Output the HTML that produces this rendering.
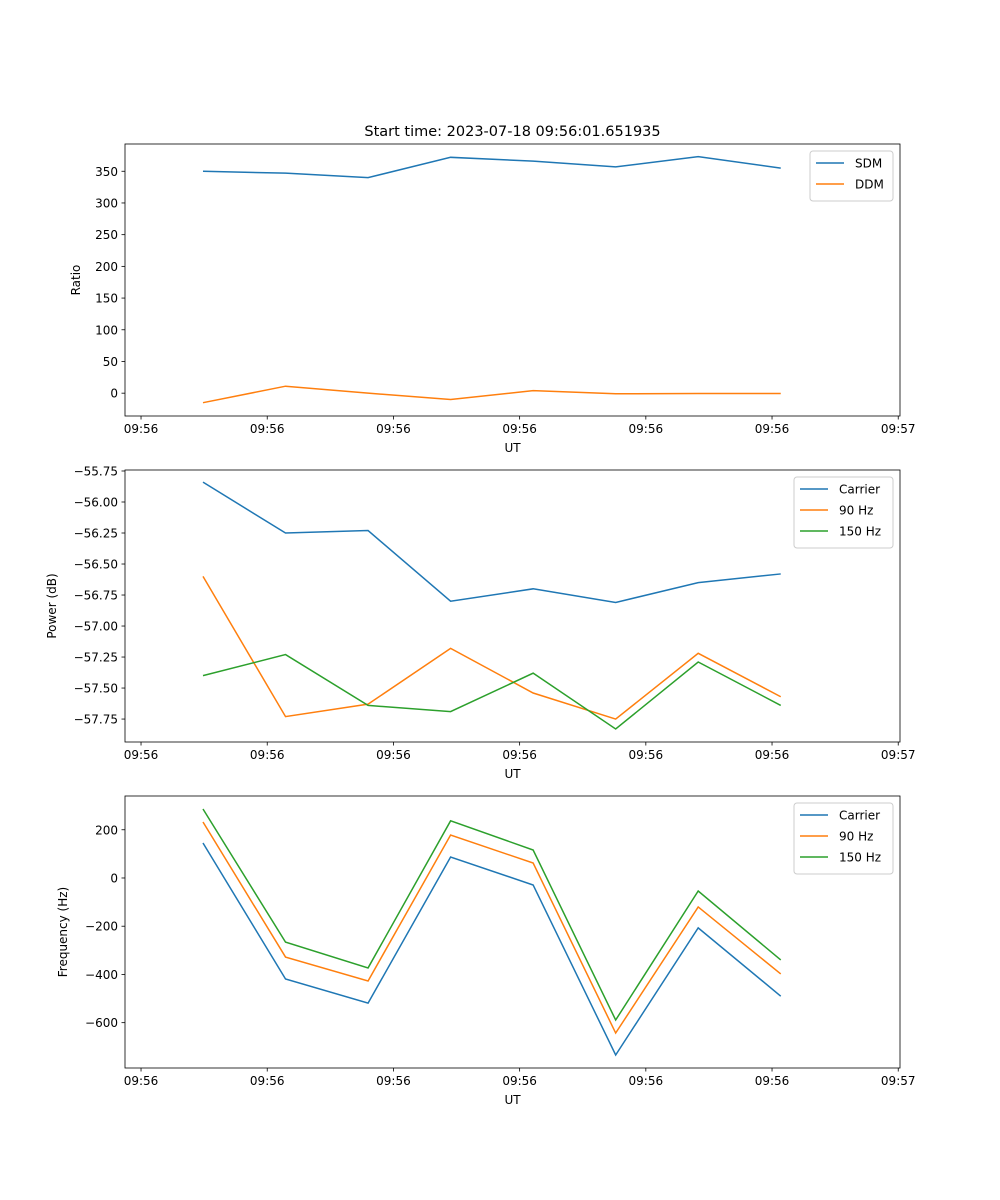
<!DOCTYPE html>
<html><head><meta charset="utf-8"><style>
body{margin:0;background:#fff}
svg{display:block;font-family:"DejaVu Sans","Liberation Sans",sans-serif}
</style></head><body>
<svg id="fig" width="1000" height="1200" viewBox="0 0 1000 1200">
<rect width="1000" height="1200" fill="#fff"/>
<text x="512.5" y="136" text-anchor="middle" font-size="14.5">Start time: 2023-07-18 09:56:01.651935</text>
</svg>
<script>
const times = [0.491, 1.145, 1.799, 2.453, 3.107, 3.761, 4.415, 5.069];
const xTickVals = [0,1,2,3,4,5,6];
const xTickLabels = ["09:56","09:56","09:56","09:56","09:56","09:56","09:57"];
const sdm = [350,347,340,372,366,357,373,355];
const ddm = [-15,11,0,-10,4,-1,-0.5,-0.5];
const pCarrier = [-55.84,-56.25,-56.23,-56.80,-56.70,-56.81,-56.65,-56.58];
const p90 = [-56.60,-57.73,-57.63,-57.18,-57.54,-57.75,-57.22,-57.57];
const p150 = [-57.40,-57.23,-57.64,-57.69,-57.38,-57.83,-57.29,-57.64];
const fCarrier = [145,-419,-519,87,-29,-734,-207,-490];
const f90 = [232,-328,-427,178,62,-643,-120,-398];
const f150 = [286,-266,-373,237,116,-589,-54,-340];
const ticks1 = [0,50,100,150,200,250,300,350];
const ticks2 = [-55.75,-56.00,-56.25,-56.50,-56.75,-57.00,-57.25,-57.50,-57.75];
const ticks3 = [200,0,-200,-400,-600];

const NS="http://www.w3.org/2000/svg";
const svg=document.getElementById('fig');
const C=["#1f77b4","#ff7f0e","#2ca02c"];
function el(t,a,p){const e=document.createElementNS(NS,t);for(const k in a)e.setAttribute(k,a[k]);(p||svg).appendChild(e);return e;}
const X0=125,X1=900,XMIN=-0.127,XMAX=6.014;
const xs=v=>X0+(v-XMIN)/(XMAX-XMIN)*(X1-X0);

function panel(name,top,bot,ymin,ymax,yt,fmt,ylabel,series,labels,legW){
  const g=el('g',{});
  
  
  const ys=v=>bot-(v-ymin)/(ymax-ymin)*(bot-top);
  series.forEach((s,i)=>{
    const pl=el('polyline',{points:s.map((v,j)=>xs(times[j])+','+ys(v)).join(' '),fill:'none',stroke:C[i],'stroke-width':1.5},g);
    
    
  });
  const fr=el('rect',{x:X0,y:top,width:X1-X0,height:bot-top,fill:'none',stroke:'#000','stroke-width':0.8},g);
  
  
  xTickVals.forEach((v,i)=>{
    const x=xs(v);
    el('line',{x1:x,y1:bot,x2:x,y2:bot+3.5,stroke:'#000','stroke-width':0.8},g);
    const t=el('text',{x:x,y:bot+17,'text-anchor':'middle','font-size':12},g);
    t.textContent=xTickLabels[i];
    
    
  });
  yt.forEach(v=>{
    const y=ys(v);
    el('line',{x1:X0-3.5,y1:y,x2:X0,y2:y,stroke:'#000','stroke-width':0.8},g);
    const t=el('text',{x:X0-7,y:y+4.5,'text-anchor':'end','font-size':12},g);
    t.textContent=fmt(v);
    
    
  });
  const xl=el('text',{x:512.5,y:bot+36,'text-anchor':'middle','font-size':12},g);
  xl.textContent='UT';
  
  
  const lx=ylabel==='Ratio'?80:(ylabel==='Power (dB)'?56:67);
  const yl=el('text',{x:lx,y:(top+bot)/2,'text-anchor':'middle','font-size':12,transform:`rotate(-90 ${lx} ${(top+bot)/2})`},g);
  yl.textContent=ylabel;
  
  
  const lg=el('g',{},g);
  
  
  const lxl=893-legW;
  el('rect',{x:lxl,y:top+7,width:legW,height:labels.length*21+8,rx:3,fill:'#fff',stroke:'#ccc','stroke-width':1},lg);
  labels.forEach((l,i)=>{
    const y=top+19+i*21;
    el('line',{x1:lxl+6,y1:y,x2:lxl+34,y2:y,stroke:C[i],'stroke-width':1.5},lg);
    const t=el('text',{x:lxl+45,y:y+4.5,'font-size':12},lg);
    t.textContent=l;
    
    
  });
}
panel('ratio-panel',144,416,-36,393,ticks1,v=>String(v),'Ratio',[sdm,ddm],['SDM','DDM'],83);
panel('power-panel',470,742,-57.935,-55.742,ticks2,v=>'\u2212'+Math.abs(v).toFixed(2),'Power (dB)',[pCarrier,p90,p150],['Carrier','90 Hz','150 Hz'],99);
panel('frequency-panel',796,1068,-788,340,ticks3,v=>v<0?'\u2212'+Math.abs(v):String(v),'Frequency (Hz)',[fCarrier,f90,f150],['Carrier','90 Hz','150 Hz'],99);
</script>
</body></html>
